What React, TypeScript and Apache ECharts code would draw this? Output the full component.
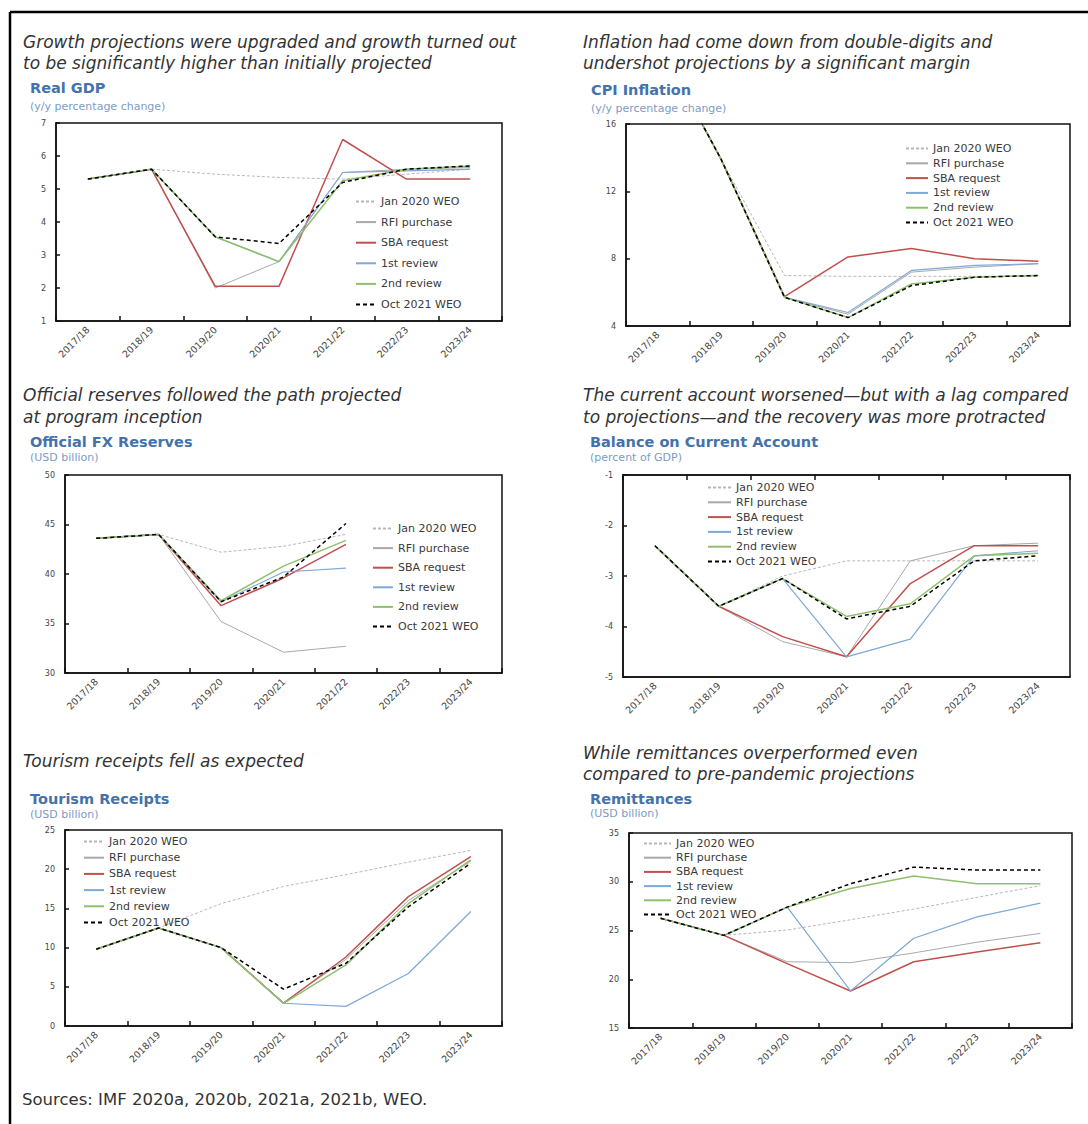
import React, { useEffect, useRef } from "react";
import * as echarts from "echarts";

const CATEGORIES = ["2017/18", "2018/19", "2019/20", "2020/21", "2021/22", "2022/23", "2023/24"];
const SERIES_NAMES = ["Jan 2020 WEO", "RFI purchase", "SBA request", "1st review", "2nd review", "Oct 2021 WEO"];

// Real GDP (y/y percentage change)
const gdpJan = [5.3, 5.6, 5.45, 5.35, 5.3, 5.45, 5.6];
const gdpRfi = [5.3, 5.6, 2.0, 2.8, 5.5, 5.6, 5.65];
const gdpSba = [5.3, 5.6, 2.05, 2.05, 6.5, 5.3, 5.3];
const gdpFirst = [5.3, 5.6, 3.55, 2.8, 5.5, 5.55, 5.6];
const gdpSecond = [5.3, 5.6, 3.55, 2.8, 5.25, 5.6, 5.7];
const gdpOct = [5.3, 5.6, 3.55, 3.35, 5.2, 5.6, 5.7];

// CPI Inflation (y/y percentage change)
const cpiJan = [20.9, 13.9, 7.0, 6.95, 6.95, 6.95, 6.95];
const cpiRfi = [20.9, 13.9, 5.7, 4.7, 7.2, 7.5, 7.7];
const cpiSba = [20.9, 13.9, 5.75, 8.1, 8.6, 8.0, 7.85];
const cpiFirst = [20.9, 13.9, 5.7, 4.8, 7.3, 7.6, 7.7];
const cpiSecond = [20.9, 13.9, 5.7, 4.5, 6.5, 6.9, 7.0];
const cpiOct = [20.9, 13.9, 5.7, 4.5, 6.4, 6.9, 7.0];

// Official FX Reserves (USD billion)
const fxJan = [43.6, 44.0, 42.2, 42.8, 44.0, null, null];
const fxRfi = [43.6, 44.0, 35.2, 32.1, 32.7, null, null];
const fxSba = [43.6, 44.0, 36.8, 39.6, 43.0, null, null];
const fxFirst = [43.6, 44.0, 37.2, 40.2, 40.6, null, null];
const fxSecond = [43.6, 44.0, 37.3, 40.8, 43.4, null, null];
const fxOct = [43.6, 44.0, 37.2, 39.7, 45.1, null, null];

// Balance on Current Account (percent of GDP)
const caJan = [-2.4, -3.6, -3.0, -2.7, -2.7, -2.7, -2.7];
const caRfi = [-2.4, -3.6, -4.3, -4.6, -2.7, -2.4, -2.35];
const caSba = [-2.4, -3.6, -4.2, -4.6, -3.15, -2.4, -2.4];
const caFirst = [-2.4, -3.6, -3.05, -4.6, -4.25, -2.6, -2.5];
const caSecond = [-2.4, -3.6, -3.05, -3.8, -3.55, -2.6, -2.55];
const caOct = [-2.4, -3.6, -3.05, -3.85, -3.6, -2.7, -2.6];

// Tourism Receipts (USD billion)
const tourJan = [9.8, 12.5, 15.6, 17.8, 19.3, 20.9, 22.4];
const tourRfi = [9.8, 12.5, 10.0, 3.0, 8.5, 16.0, 21.0];
const tourSba = [9.8, 12.5, 10.0, 2.9, 8.8, 16.5, 21.6];
const tourFirst = [9.8, 12.5, 10.0, 2.9, 2.5, 6.7, 14.6];
const tourSecond = [9.8, 12.5, 10.0, 2.9, 7.8, 15.6, 21.2];
const tourOct = [9.8, 12.5, 10.0, 4.7, 8.0, 15.2, 20.75];

// Remittances (USD billion)
const remJan = [26.25, 24.5, 25.05, 26.1, 27.2, 28.4, 29.6];
const remRfi = [26.25, 24.5, 21.8, 21.7, 22.7, 23.8, 24.7];
const remSba = [26.25, 24.5, 21.6, 18.8, 21.8, 22.8, 23.75];
const remFirst = [26.25, 24.5, 27.4, 18.8, 24.2, 26.4, 27.8];
const remSecond = [26.25, 24.5, 27.4, 29.3, 30.6, 29.8, 29.8];
const remOct = [26.25, 24.5, 27.4, 29.8, 31.5, 31.2, 31.2];

const SOURCE_NOTE = "Sources: IMF 2020a, 2020b, 2021a, 2021b, WEO.";

const FONT = "'DejaVu Sans', sans-serif";
const COLORS = ["#b8b8b8", "#a8a8a8", "#c0504d", "#7ea8d6", "#8fc06c", "#000000"];
const WIDTHS = [1, 1, 1.5, 1.2, 1.5, 1.5];
const DASHES: any[] = [[3, 2], "solid", "solid", "solid", "solid", [4, 3]];

const PANELS = [
  {
    headline: ["Growth projections were upgraded and growth turned out", "to be significantly higher than initially projected"],
    hx: 23, hy: [42, 63],
    title: "Real GDP", sub: "(y/y percentage change)", tx: 30, ty: 88, sy: 106,
    grid: { left: 56, top: 123, width: 446, height: 198 },
    y: [1, 7, 1],
    data: [gdpJan, gdpRfi, gdpSba, gdpFirst, gdpSecond, gdpOct],
    legend: { left: 355, top: 196, gap: 9.6, w: 20 },
    topTicks: false,
  },
  {
    headline: ["Inflation had come down from double-digits and", "undershot projections by a significant margin"],
    hx: 583, hy: [42, 63],
    title: "CPI Inflation", sub: "(y/y percentage change)", tx: 591, ty: 90, sy: 108,
    grid: { left: 626, top: 124, width: 444, height: 202 },
    y: [4, 16, 4],
    data: [cpiJan, cpiRfi, cpiSba, cpiFirst, cpiSecond, cpiOct],
    legend: { left: 905, top: 143, gap: 3.8, w: 22 },
    topTicks: false,
  },
  {
    headline: ["Official reserves followed the path projected", "at program inception"],
    hx: 23, hy: [395, 417],
    title: "Official FX Reserves", sub: "(USD billion)", tx: 30, ty: 442, sy: 457,
    grid: { left: 65, top: 475, width: 437, height: 198 },
    y: [30, 50, 5],
    data: [fxJan, fxRfi, fxSba, fxFirst, fxSecond, fxOct],
    legend: { left: 372, top: 523, gap: 8.6, w: 20 },
    topTicks: false,
  },
  {
    headline: ["The current account worsened\u2014but with a lag compared", "to projections\u2014and the recovery was more protracted"],
    hx: 583, hy: [395, 417],
    title: "Balance on Current Account", sub: "(percent of GDP)", tx: 590, ty: 442, sy: 457,
    grid: { left: 623, top: 475, width: 447, height: 202 },
    y: [-5, -1, 1],
    data: [caJan, caRfi, caSba, caFirst, caSecond, caOct],
    legend: { left: 707, top: 482, gap: 3.8, w: 23 },
    topTicks: true,
  },
  {
    headline: ["Tourism receipts fell as expected"],
    hx: 23, hy: [761],
    title: "Tourism Receipts", sub: "(USD billion)", tx: 30, ty: 799, sy: 814,
    grid: { left: 65, top: 830, width: 437, height: 196 },
    y: [0, 25, 5],
    data: [tourJan, tourRfi, tourSba, tourFirst, tourSecond, tourOct],
    legend: { left: 83, top: 836, gap: 5.2, w: 20 },
    topTicks: false,
  },
  {
    headline: ["While remittances overperformed even", "compared to pre-pandemic projections"],
    hx: 583, hy: [753, 774],
    title: "Remittances", sub: "(USD billion)", tx: 590, ty: 799, sy: 813,
    grid: { left: 629, top: 833, width: 443, height: 195 },
    y: [15, 35, 5],
    data: [remJan, remRfi, remSba, remFirst, remSecond, remOct],
    legend: { left: 643, top: 838, gap: 3.2, w: 27 },
    topTicks: false,
  },
];

function txt(text: string, x: number, y: number, size: number, opts: any = {}) {
  return {
    type: "text",
    x,
    y,
    silent: true,
    style: {
      text,
      fill: opts.fill || "#333",
      fontSize: size,
      fontFamily: FONT,
      fontStyle: opts.italic ? "italic" : "normal",
      fontWeight: opts.bold ? "bold" : "normal",
      verticalAlign: "middle",
      textVerticalAlign: "middle",
    },
  };
}

function buildOption() {
  const axisLineStyle = { color: "#111", width: 1.5 };
  const grid: any[] = [];
  const xAxis: any[] = [];
  const yAxis: any[] = [];
  const series: any[] = [];
  const legend: any[] = [];
  const graphic: any[] = [];

  PANELS.forEach((p, i) => {
    grid.push({ ...p.grid, show: true, borderColor: "#111", borderWidth: 1.5, containLabel: false });
    xAxis.push({
      type: "category",
      gridIndex: i,
      data: CATEGORIES,
      boundaryGap: true,
      axisLine: { show: true, lineStyle: axisLineStyle },
      axisTick: { show: !p.topTicks, inside: true, length: 5, lineStyle: axisLineStyle },
      axisLabel: { rotate: 45, fontSize: 9.5, color: "#444", fontFamily: FONT, margin: 7, interval: 0 },
      splitLine: { show: false },
    });
    yAxis.push({
      type: "value",
      gridIndex: i,
      min: p.y[0],
      max: p.y[1],
      interval: p.y[2],
      axisLine: { show: true, lineStyle: axisLineStyle },
      axisTick: { show: true, inside: true, length: 4, lineStyle: axisLineStyle },
      axisLabel: { fontSize: 8, color: "#444", fontFamily: FONT, margin: 10 },
      splitLine: { show: false },
    });
    p.data.forEach((d, k) => {
      series.push({
        type: "line",
        name: SERIES_NAMES[k],
        xAxisIndex: i,
        yAxisIndex: i,
        data: d,
        symbol: "none",
        clip: true,
        connectNulls: false,
        z: 2 + k,
        itemStyle: { color: COLORS[k] },
        lineStyle: { color: COLORS[k], width: WIDTHS[k], type: DASHES[k] },
      });
    });
    legend.push({
      data: SERIES_NAMES,
      orient: "vertical",
      left: p.legend.left,
      top: p.legend.top,
      padding: 0,
      itemGap: p.legend.gap,
      itemWidth: p.legend.w,
      itemHeight: 10,
      selectedMode: false,
      itemStyle: { opacity: 0, color: "rgba(0,0,0,0)", borderWidth: 0 },
      textStyle: { fontSize: 11, lineHeight: 10, color: "#3a3a3a", fontFamily: FONT },
    });
    p.headline.forEach((line, j) => {
      graphic.push(txt(line, p.hx, p.hy[j], 17, { italic: true, fill: "#333" }));
    });
    graphic.push(txt(p.title, p.tx, p.ty, 14.5, { bold: true, fill: "#4472ab" }));
    graphic.push(txt(p.sub, p.tx, p.sy, 11, { fill: "#7d9cc4" }));
  });

  // top tick marks for the current-account panel
  xAxis.push({
    type: "category",
    gridIndex: 3,
    position: "top",
    data: CATEGORIES,
    boundaryGap: true,
    axisLine: { show: true, lineStyle: axisLineStyle },
    axisTick: { show: true, inside: true, length: 5, lineStyle: axisLineStyle },
    axisLabel: { show: false },
    splitLine: { show: false },
  });

  graphic.push(txt(SOURCE_NOTE, 22, 1099, 16.5, { fill: "#333" }));
  graphic.push({ type: "line", silent: true, shape: { x1: 10, y1: 12, x2: 10, y2: 1124 }, style: { stroke: "#000", lineWidth: 2.5 } });
  graphic.push({ type: "line", silent: true, shape: { x1: 10, y1: 12, x2: 1088, y2: 12 }, style: { stroke: "#000", lineWidth: 2.5 } });

  return {
    animation: false,
    backgroundColor: "#ffffff",
    grid,
    xAxis,
    yAxis,
    series,
    legend,
    graphic,
  };
}

export default function App() {
  const ref = useRef<HTMLDivElement>(null);
  useEffect(() => {
    const chart = echarts.init(ref.current as HTMLDivElement, null, { renderer: "svg" });
    chart.setOption(buildOption() as any);
    return () => chart.dispose();
  }, []);
  return (
    <div
      ref={ref}
      style={{ position: "absolute", left: 0, top: 0, width: 1088, height: 1124, background: "#fff" }}
    />
  );
}
